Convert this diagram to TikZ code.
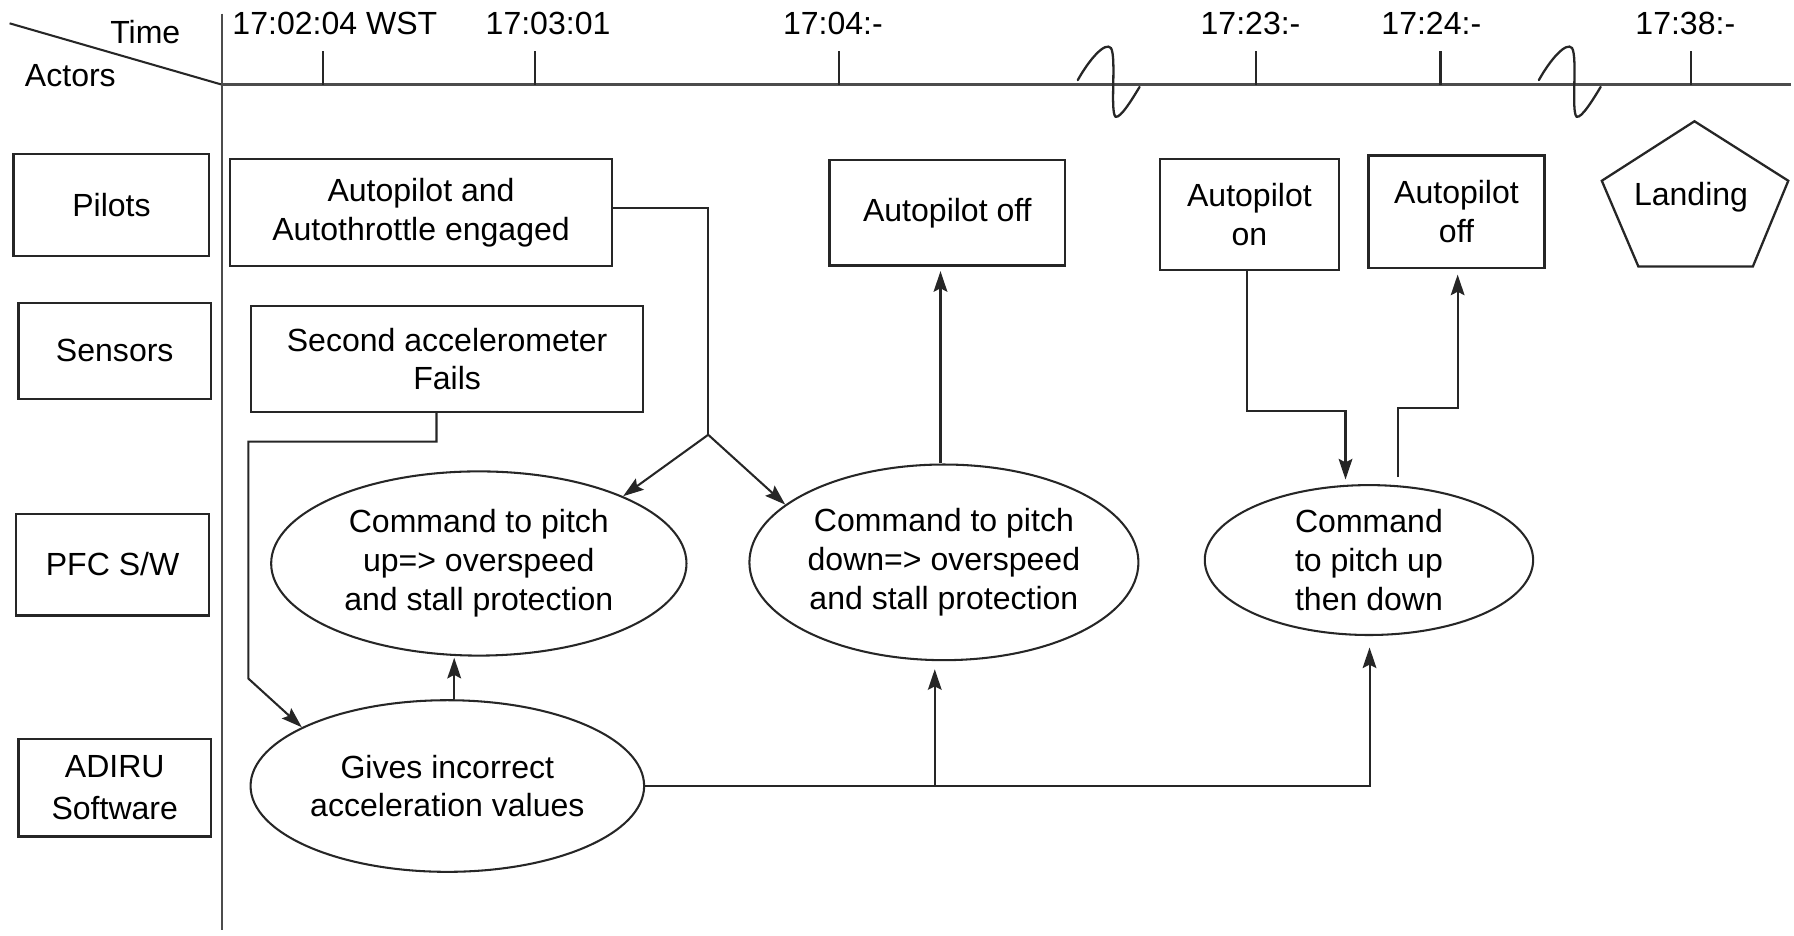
\documentclass[tikz,border=0pt]{standalone}
\usepackage{fontspec}
\setmainfont{Liberation Sans}
\usetikzlibrary{arrows.meta,shapes.geometric,calc}
\begin{document}
\begin{tikzpicture}[x=1pt,y=-1pt,
  every node/.style={font=\fontsize{28}{34}\selectfont, text=black},
  ln/.style={line width=1.8pt, draw=black!85},
  axis/.style={line width=2.2pt, draw=black!70},
  box/.style={rectangle, draw=black!85, line width=2pt, inner sep=0pt, align=center},
  ell/.style={ellipse, draw=black!85, line width=1.8pt, inner sep=0pt, align=center},
  arr/.style={ln, -{Stealth[length=18pt,width=12pt,inset=3pt]}},
  tlabel/.style={inner sep=0pt, anchor=base}
]
\useasboundingbox (0,0) rectangle (1568,818);

% header
\draw[ln] (8.4,20.4) -- (194,74);
\node[tlabel] (time) at (127,38) {Time};
\node[tlabel] (actors) at (61.5,76) {Actors};
\draw[axis] (194,12) -- (194,813);
\draw[axis] (194,74) -- (1565,74);
\foreach \x in {282.6,467.6,733.6,1098,1259,1477.6}
  \draw[ln] (\x,45) -- (\x,74);
\node[tlabel, anchor=base west] (t1) at (203,30) {17:02:04 WST};
\node[tlabel] (t2) at (479,30) {17:03:01};
\node[tlabel] (t3) at (728,30) {17:04:-};
\node[tlabel] (t4) at (1093,30) {17:23:-};
\node[tlabel] (t5) at (1251,30) {17:24:-};
\node[tlabel] (t6) at (1473,30) {17:38:-};

% breaks
\foreach \s in {0,403}{
  \begin{scope}[xshift=\s pt]
    \draw[line width=2pt, black!85, line cap=round]
      (942,70) .. controls (952,52) and (966,36) .. (971,42)
      .. controls (976,50) and (970,98) .. (975,102)
      .. controls (979,104) and (990,86) .. (996,76);
  \end{scope}
}

% actors
\node[box, minimum width=171pt, minimum height=89pt] (pilots) at (97.4,179.2) {Pilots};
\node[box, minimum width=168.5pt, minimum height=84pt] (sensors) at (100.3,307) {\raisebox{2pt}{Sensors}};
\node[box, minimum width=168.7pt, minimum height=89pt] (pfc) at (98.4,493.5) {\raisebox{2pt}{PFC S/W}};
\node[box, minimum width=168.5pt, minimum height=85pt, font=\fontsize{28}{37}\selectfont] (adiru) at (100.3,688.5) {ADIRU\\Software};

% events
\node[box, minimum width=334pt, minimum height=93.5pt] (ae) at (368,185.8) {Autopilot and\\Autothrottle engaged};
\node[box, minimum width=342.4pt, minimum height=92.5pt] (sa) at (390.8,313.8) {Second accelerometer\\Fails};
\node[box, minimum width=206pt, minimum height=92pt] (apo1) at (828,186) {Autopilot off};
\node[box, minimum width=156pt, minimum height=97pt] (apon) at (1092,187.5) {Autopilot\\on};
\node[box, minimum width=154pt, minimum height=98pt] (apo2) at (1273,185) {Autopilot\\off};

\draw[line width=2pt, draw=black!85] (1481,106) -- (1563,158) -- (1532,233) -- (1432,233) -- (1400,158) -- cycle;
\node[inner sep=0pt] (land) at (1478,172) {Landing};

\node[ell, minimum width=363pt, minimum height=161pt] (e1) at (418.5,492.5) {Command to pitch\\up=> overspeed\\and stall protection};
\node[ell, minimum width=340pt, minimum height=171pt] (e2) at (825,491.5) {Command to pitch\\down=> overspeed\\and stall protection};
\node[ell, minimum width=287pt, minimum height=131pt] (e3) at (1196.5,489.5) {Command\\to pitch up\\then down};
\node[ell, minimum width=344pt, minimum height=150pt] (e4) at (391,687) {Gives incorrect\\acceleration values};

% connectors
\coordinate (J) at (619,380);
\draw[ln] ([yshift=4pt]ae.east) -| (J);
\draw[arr] (J) -- (e1.25);
\draw[arr] (J) -- (e2.160);

\coordinate (s1) at (381.5,386);
\coordinate (s2) at (217,386);
\coordinate (s3) at (217,593);
\draw[arr] (sa.south -| s1) -- (s1) -- (s2) -- (s3) -- (e4.158);

\draw[arr] ($(e2.north)+(-3,0)$) -- ($(e2.north |- apo1.south)+(-3,4)$);
\draw[arr] ($(e4.north)+(6,0)$) -- ($(e4.north |- e1.south)+(6,1)$);

\draw[arr] (e4.east) -| ($(e3.south)+(0.5,10)$);
\draw[arr] ($(e4.east -| e2.south)+(-8,0)$) -- ($(e2.south)+(-8,7)$);

\coordinate (k1) at (1176,359);
\draw[arr] ($(apon.south)+(-2,0)$) |- (k1) -- ($(k1 |- e3.north)+(0,-4)$);
\coordinate (k2) at (1221.5,357);
\draw[arr] ($(k2 |- e3.north)+(0,-6)$) -- (k2) -| ($(apo2.south)+(1,5)$);
\end{tikzpicture}
\end{document}
